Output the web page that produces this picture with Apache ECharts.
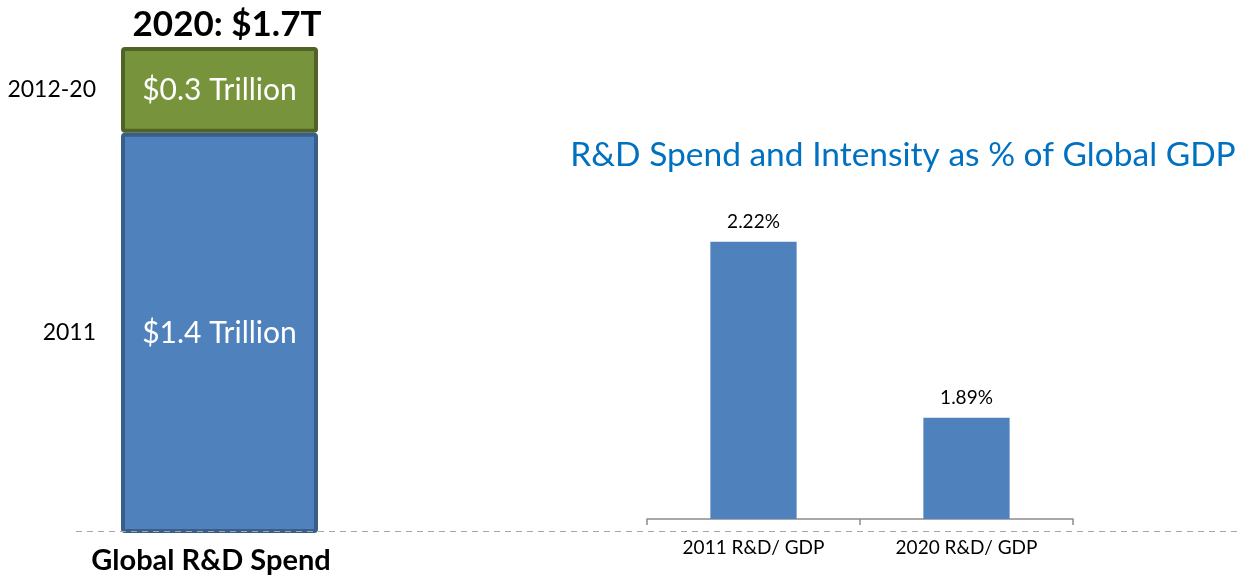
<!DOCTYPE html>
<html>
<head>
<meta charset="utf-8">
<script src="https://cdn.jsdelivr.net/npm/echarts@6/dist/echarts.min.js"></script>
<style>
  html, body { margin: 0; padding: 0; background: #fff; }
  #chart { width: 1242px; height: 576px; }
</style>
</head>
<body>
<div id="chart"></div>
<script>
// left: global R&D spend, trillions
const spendCategory = ['Global R&D Spend']
const spendPeriods = ['2011', '2012-20']
const spendValues = [1.4, 0.3]
const spendLabels = ['$1.4 Trillion', '$0.3 Trillion']

// right: R&D intensity as % of GDP
const gdpCategories = ['2011 R&D/ GDP', '2020 R&D/ GDP']
const gdpValues = [2.22, 1.89]

const FONT = 'Lato, "Open Sans", sans-serif'
const total = spendValues.reduce((a, b) => a + b, 0)

// midpoints of stacked segments, for the left-hand period labels
const mids = []
let acc = 0
spendValues.forEach(v => { mids.push(acc + v / 2); acc += v })

const chart = echarts.init(document.getElementById('chart'))
chart.setOption({
  animation: false,
  textStyle: { fontFamily: FONT },
  title: [
    {
      text: 'R&D Spend and Intensity as % of Global GDP',
      left: 898, top: 133, textAlign: 'center',
      textStyle: { color: '#0070C0', fontSize: 33.5, fontWeight: 'normal', fontFamily: FONT }
    },
    {
      text: '2020: $' + total.toFixed(1) + 'T',
      left: 222, top: 2, textAlign: 'center',
      textStyle: { color: '#000', fontSize: 35, fontWeight: 'bold', fontFamily: FONT }
    }
  ],
  grid: [
    { left: 121, width: 197, top: 47, bottom: 43 },
    { left: 647, width: 426, top: 199, bottom: 57 }
  ],
  xAxis: [
    {
      gridIndex: 0, type: 'category', data: spendCategory,
      axisLine: { show: false }, axisTick: { show: false },
      axisLabel: {
        margin: 13, color: '#000', fontSize: 29, fontWeight: 'bold', fontFamily: FONT,
        padding: [0, 17, 0, 0]
      }
    },
    {
      gridIndex: 1, type: 'category', data: gdpCategories,
      axisLine: { lineStyle: { color: '#8c8c8c', width: 1.5 } },
      axisTick: { show: true, length: 6, lineStyle: { color: '#8c8c8c', width: 1.5 } },
      axisLabel: { margin: 19, color: '#000', fontSize: 19, fontFamily: FONT }
    }
  ],
  yAxis: [
    {
      gridIndex: 0, type: 'value', min: 0, max: total,
      splitLine: { show: false }, axisLine: { show: false }, axisTick: { show: false },
      axisLabel: {
        customValues: mids,
        margin: 25, color: '#000', fontSize: 23, fontFamily: FONT,
        formatter: v => spendPeriods[mids.indexOf(v)] || ''
      }
    },
    {
      gridIndex: 1, type: 'value', min: 1.7, max: 2.3, show: false,
      splitLine: { show: false }
    }
  ],
  series: [
    ...spendValues.map((v, i) => ({
      type: 'bar', name: spendPeriods[i], stack: 'spend',
      xAxisIndex: 0, yAxisIndex: 0, barWidth: '100%',
      data: [v],
      itemStyle: i === 0
        ? { color: '#4F81BD', borderColor: '#3A5E8C', borderWidth: 4, borderRadius: 2 }
        : { color: '#77933C', borderColor: '#4F6228', borderWidth: 4, borderRadius: 2 },
      label: {
        show: true, position: 'inside', color: '#fff', fontSize: 30, fontFamily: FONT,
        formatter: () => spendLabels[i]
      }
    })),
    {
      type: 'bar', xAxisIndex: 1, yAxisIndex: 1, barWidth: '40.5%',
      data: gdpValues,
      itemStyle: { color: '#4F81BD' },
      label: {
        show: true, position: 'top', distance: 10, color: '#000', fontSize: 19, fontFamily: FONT,
        formatter: p => p.value.toFixed(2) + '%'
      }
    }
  ],
  graphic: [
    {
      type: 'line', z: 100,
      shape: { x1: 76, y1: 531.5, x2: 1242, y2: 531.5 },
      style: { stroke: '#a6a6a6', lineWidth: 1, lineDash: [6, 5] }
    }
  ]
})
</script>
</body>
</html>
